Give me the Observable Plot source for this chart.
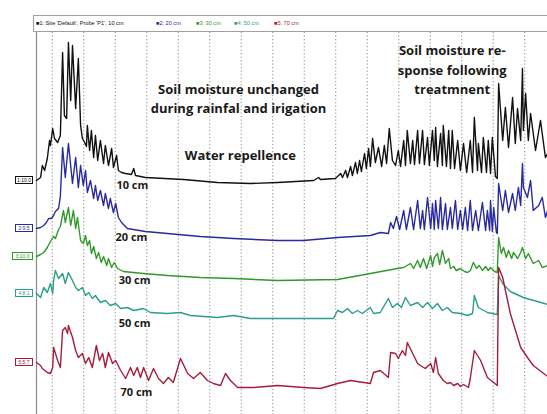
<!DOCTYPE html>
<html><head><meta charset="utf-8">
<script src="https://cdn.jsdelivr.net/npm/d3@7"></script>
<script src="https://cdn.jsdelivr.net/npm/@observablehq/plot@0.6"></script>
<style>
body{margin:0;background:#fff;}
#wrap{position:relative;width:547px;height:414px;overflow:hidden;background:#fff;}
#legend{position:absolute;left:33px;top:15px;width:530px;height:17px;border:1px solid #a0a0a0;box-sizing:border-box;background:#fff;font:5.6px "Liberation Sans",sans-serif;white-space:nowrap;}
#legend span{position:absolute;top:4px;}
#chart{position:absolute;left:0;top:32px;}
.badge{position:absolute;height:8px;box-sizing:border-box;border:1px solid;font:5px "Liberation Sans",sans-serif;line-height:6px;text-align:center;background:#fff;}
</style></head>
<body>
<div id="wrap"><div id="legend"></div><div id="chart"></div></div>
<script>
// ---- data: [day, soil moisture (offset trace units)] ----
const seriesNames = ["10 cm", "20 cm", "30 cm", "50 cm", "70 cm"];
const seriesColors = ["#111111", "#2a2aa0", "#2f9a2a", "#2a9e8a", "#a51d3c"];
const legendLabels = ["\u25A01: Site 'Default', Probe 'P1', 10 cm", "\u25A02: 20 cm", "\u25A03: 30 cm", "\u25A04: 50 cm", "\u25A05: 70 cm"];
const badgeLabels = ["1:10.0", "2:9.5", "3:10.0", "4:8.1", "5:5.7"];

const s10 = [[0,23.4],[0.9,23.7],[1.3,24.9],[1.8,24.4],[2.4,25.6],[2.9,27.4],[3.1,26.9],[3.6,28.6],[4,27.6],[4.7,27.2],[5.3,27.9],[5.8,36.2],[6.2,29.9],[6.7,29.6],[7.1,37.2],[7.6,31.4],[8,36.9],[8.7,30.6],[9.3,35.6],[9.8,28.9],[10.2,27.6],[10.7,27.2],[11.1,26.8],[11.3,28.9],[11.8,26.4],[12.2,28.4],[12.7,25.7],[13.1,27.9],[13.6,25.4],[14.2,27.4],[14.9,25.1],[15.3,26.9],[16,24.9],[16.7,26.6],[17.1,24.7],[17.8,25.9],[18.2,24.4],[18.9,24.2],[19.8,24.1],[21.1,24],[21.6,24.6],[22,23.9],[24.2,23.7],[32.7,23.5],[40.2,23.2],[47.6,23.1],[53.6,23.2],[61.6,23.4],[62.7,23.7],[63.1,23.5],[66.4,23.6],[66.9,23.8],[67.6,24.1],[68,23.7],[68.7,24.4],[69.1,23.7],[69.8,24.8],[70.2,23.9],[70.9,25.2],[71.3,24.1],[71.8,25.4],[72.2,24.3],[72.9,26.1],[73.3,24.6],[73.8,26.6],[74.2,24.8],[74.7,27.6],[75.3,25.2],[76,26.7],[76.7,24.8],[77.3,26.9],[77.8,25.1],[78.4,28.6],[79.1,25.4],[79.8,24.9],[80.4,26.4],[80.9,24.8],[81.6,27.4],[82,24.9],[82.4,28.4],[83.1,25.1],[83.6,27.4],[84,25],[84.7,28.4],[85.1,25.1],[85.8,28.4],[86.2,25],[86.9,27.7],[87.3,24.9],[88,28.4],[88.4,25.4],[88.7,28.7],[89.1,24.8],[89.8,28.1],[90.2,24.9],[90.4,28.9],[91.1,24.8],[91.6,28.4],[92,24.6],[92.4,28.4],[92.9,24.6],[93.6,27.4],[94.2,24.4],[94.9,27.1],[95.6,24.2],[96.4,27.4],[96.9,24.2],[97.3,29.7],[98,24.4],[98.2,27.1],[98.9,24.2],[99.3,27.7],[100,24.2],[100.4,27.4],[100.9,24.1],[101.3,27.7],[102,23.8],[102.4,23.6],[102.7,33.1],[103.6,27.4],[104.2,30.7],[104.9,26.7],[105.8,31.7],[106.4,27.1],[106.9,30.6],[107.6,27.4],[108,34.6],[108.2,28.4],[108.7,32.1],[109.3,27.4],[109.8,30.1],[110.9,26.4],[112,29.4],[113.1,25.7],[113.6,26.1]];

const s20 = [[0,18.6],[0.9,18.7],[1.6,18.9],[2.2,19.2],[2.7,19.6],[3.3,19.6],[3.8,19.9],[4.2,20.3],[4.9,20.6],[5.3,21.8],[5.8,26.7],[6.4,23.7],[7.1,27.1],[8,23.1],[8.7,25.7],[9.3,22.7],[9.8,24.9],[10.4,22.9],[10.9,24.4],[11.3,22.2],[12,23.4],[12.7,21.6],[13.1,22.9],[13.6,21.4],[14.2,22.4],[14.9,20.9],[15.3,22.1],[16,20.6],[16.4,21.6],[17.1,20.2],[17.6,21.1],[18.2,19.7],[18.9,19.2],[20.2,18.6],[24.2,18.3],[29.1,18.1],[36.4,17.8],[43.8,17.6],[53.6,17.4],[59.3,17.4],[66.9,17.7],[74.2,17.9],[76.4,18.2],[78.2,18.1],[78.7,19.2],[79.3,18.6],[80,19.8],[80.7,18.5],[81.6,20.4],[82.2,18.5],[83.1,20.7],[83.8,18.5],[84.7,21.4],[85.3,18.6],[85.8,20.4],[86.2,18.5],[86.9,21.7],[87.6,18.6],[88,21.1],[88.4,18.5],[88.7,21.4],[89.3,18.6],[89.8,21.7],[90.2,18.5],[90.9,21.1],[91.3,18.5],[92,20.7],[92.4,18.6],[93.1,21.4],[93.6,18.5],[94.2,20.4],[94.7,18.5],[95.3,20.7],[95.8,18.4],[96.4,21.4],[96.9,18.4],[97.6,20.4],[98.2,18.4],[99.1,21.2],[99.8,18.4],[100.2,20.4],[100.7,18.4],[100.9,21.4],[101.3,18.3],[101.6,20.7],[102.2,18.2],[102.4,18.1],[102.7,23.1],[103.6,20.4],[104.2,22.4],[104.9,20.2],[105.8,22.1],[106.4,20.4],[107.1,22.7],[107.6,20.9],[108,25.1],[108.2,22.7],[109.1,21.7],[109.8,23.4],[110.4,20.4],[111.6,20.9],[112.4,21.7],[113.1,19.7],[113.6,20.4]];

const s30 = [[0,15.8],[0.9,16],[1.6,16.2],[2.4,16.7],[3.1,17.3],[3.8,17.8],[4.2,17.6],[4.9,18.5],[5.3,18.8],[6,20.4],[6.4,19.2],[7.1,20.7],[7.6,18.9],[8.2,20.4],[8.7,18.6],[9.1,19.7],[9.8,17.4],[10.4,17.1],[10.9,17.9],[11.3,16.9],[11.8,17.4],[12.2,16.1],[12.7,16.8],[13.3,15.6],[13.8,16.2],[14.4,15.2],[14.9,15.8],[15.6,14.9],[16,15.6],[16.7,14.7],[17.3,15.2],[18,14.6],[19.3,14.3],[23.8,14.1],[29.1,13.9],[36.4,13.7],[43.8,13.6],[53.6,13.4],[66.9,13.5],[74.2,14.1],[80.2,14.6],[81.6,14.7],[83.1,15.1],[83.8,14.6],[84.7,15.4],[85.3,14.7],[86,15.6],[86.7,14.6],[87.6,15.9],[88,14.8],[88.4,15.7],[89.1,16.1],[89.6,15],[90.2,16.4],[90.9,15.1],[91.6,15.6],[92,14.6],[92.7,14.8],[93.3,14.4],[94.2,14.6],[95.1,14.3],[95.8,14.2],[96.4,14.4],[97.1,15.2],[97.8,14.6],[98.4,14.9],[99.1,14.4],[99.8,14.8],[100.4,14.4],[100.9,14.7],[101.8,14.3],[102.4,14.2],[102.7,17.7],[103.3,16.1],[103.8,16.7],[104.4,15.7],[104.9,16.4],[105.6,15.6],[106,16.2],[106.9,15.6],[107.6,16.2],[108,16.7],[108.7,15.6],[109.3,16.1],[110.4,15.1],[111.6,15.4],[112.4,14.7],[113.6,14.9]];

const s50 = [[0,12.1],[0.9,11.7],[1.6,12.7],[2.4,12.2],[3.1,13.1],[3.6,12.1],[3.8,13.4],[4.2,14.4],[4.9,13.6],[5.8,14.1],[6.4,13.1],[7.1,14.2],[8,13.4],[8.7,12.7],[9.3,12.4],[10.2,12.7],[10.9,11.9],[11.6,12.2],[12.4,11.6],[13.1,11.9],[14.2,11.2],[15.3,11.4],[16.4,10.9],[17.6,11.1],[18.7,10.6],[20.2,10.7],[21.6,10.4],[23.8,10.6],[25.3,10.2],[29.1,10.1],[32,10.2],[34.2,9.9],[40.2,9.7],[43.8,9.9],[47.6,9.6],[53.6,9.6],[66,9.6],[66.9,10.4],[68,10.2],[69.1,10.6],[70.2,10.1],[71.3,10.4],[72.4,10.1],[74.2,10.7],[74.9,10.1],[76.4,10.2],[78.2,11.6],[79.1,10.7],[80.2,11.1],[81.1,10.7],[82,11.7],[83.1,10.9],[84.7,11.2],[85.8,10.7],[86.9,11.2],[88,10.6],[89.1,11.1],[90.2,10.4],[91.3,10.7],[92.4,10.2],[94.2,10.1],[95.8,9.9],[96.9,10.1],[97.3,11.9],[98.2,10.7],[100.2,10.2],[102.4,10],[102.7,13.9],[103.6,13.1],[105.3,12.3],[108.2,11.7],[111.3,11.3],[113.6,11]];

const s70 = [[0,5.2],[0.9,4.9],[1.3,4.6],[2.4,4.2],[3.1,4.1],[3.6,4.7],[3.8,6.7],[4.7,5.4],[5.3,4.7],[5.8,8.4],[6.4,8.7],[6.9,8.1],[7.1,8.9],[8,7.7],[8.7,6.4],[9.3,5.7],[10.2,6.1],[10.9,5.1],[11.6,5.7],[12.4,4.7],[13.3,6.9],[14,5.4],[14.7,6.1],[15.3,4.7],[16,6.2],[16.9,5.1],[17.6,5.4],[18.7,4.4],[19.8,3.6],[20.9,4.7],[21.6,3.9],[22.4,4.7],[23.1,3.7],[23.8,4.7],[24.9,3.4],[26,4.6],[27.1,3.6],[28.2,3.1],[29.3,3.7],[30.4,3.2],[32,5.6],[33.6,4.1],[34.9,3.6],[36.4,4.2],[38,3.4],[39.3,3.1],[40.9,2.9],[42,4.1],[43.1,3.4],[44.7,2.7],[48.2,2.7],[53.6,2.9],[59.3,2.7],[63.1,2.6],[66.9,3.1],[69.8,3.4],[74.2,3.1],[74.9,4.2],[76.4,4.4],[78.2,3.7],[78.7,6.2],[79.8,6.1],[80.4,5.6],[81.3,6.4],[82,5.9],[82.4,7.2],[83.6,6.1],[84.7,5.1],[85.3,4.9],[86.4,4.6],[87.6,5.1],[88.2,4.2],[88.7,5.7],[89.3,4.1],[90.4,3.4],[91.3,3.1],[92,3.2],[92.7,2.9],[93.6,3.1],[94.2,2.8],[94.9,3],[96,2.7],[96.4,3.6],[97.3,6.4],[98.7,5.4],[100.2,3.7],[102.4,2.9],[102.7,14.7],[103.6,13.7],[105.3,10.1],[107.6,6.7],[109.1,5.7],[110.4,4.9],[112.7,4.1],[113.6,3.8]];

const gridDays = [3.5, 10.5, 17.5, 24.5, 31.5, 38.5, 45.5, 52.5, 59.5, 66.5, 73.5, 80.5, 87.5, 94.5, 101.5, 108.5];

// depth labels beside traces
const depthLabels = [
  {day: 21.3, v: 22.9, text: "10 cm"},
  {day: 21.1, v: 17.7, text: "20 cm"},
  {day: 21.8, v: 13.4, text: "30 cm"},
  {day: 21.8, v: 9.1, text: "50 cm"},
  {day: 22.2, v: 2.2, text: "70 cm"}
];
const notes = [
  {day: 44.9, v: 31.7, text: "Soil moisture unchanged\nduring rainfal and irigation"},
  {day: 45.3, v: 26.1, text: "Water repellence"},
  {day: 92.4, v: 34.6, text: "Soil moisture re-\nsponse following\ntreatmnent"}
];

const allSeries = [s10, s20, s30, s50, s70];
const rows = allSeries.flatMap((s, i) => s.map(([day, v]) => ({day, v, series: seriesNames[i]})));

const plot = Plot.plot({
  width: 547, height: 382,
  marginLeft: 36, marginRight: 0, marginTop: 0, marginBottom: 0,
  x: {domain: [0, 113.56], axis: null},
  y: {domain: [0, 38.2], axis: null},
  color: {domain: seriesNames, range: seriesColors},
  style: {background: "transparent"},
  marks: [
    Plot.ruleX(gridDays, {stroke: "#8a8a8a", strokeDasharray: "1.2,2.3", strokeWidth: 1}),
    Plot.ruleX([0], {stroke: "#8a8a8a", strokeWidth: 1.2}),
    Plot.line(rows, {x: "day", y: "v", z: "series", stroke: "series", strokeWidth: 1.4, curve: "linear"}),
    Plot.text(depthLabels, {x: "day", y: "v", text: "text", fontSize: 11, fontWeight: "bold", fill: "#1a1a1a", fontFamily: "Open Sans"}),
    Plot.text(notes, {x: "day", y: "v", text: "text", fontSize: 13, fontWeight: "bold", fill: "#1a1a1a", fontFamily: "Open Sans", lineHeight: 1.5})
  ]
});
document.getElementById("chart").appendChild(plot);

// legend above the plot
const legend = document.getElementById("legend");
const legendX = [2, 122, 162, 200, 240];
legendLabels.forEach((t, i) => {
  const s = document.createElement("span");
  s.textContent = t;
  s.style.left = legendX[i] + "px";
  s.style.color = seriesColors[i];
  legend.appendChild(s);
});

// trace badges on the left axis, positioned with the plot's y scale
const yScale = plot.scale("y");
const wrap = document.getElementById("wrap");
allSeries.forEach((s, i) => {
  const b = document.createElement("div");
  b.className = "badge";
  b.textContent = badgeLabels[i];
  const py = 32 + yScale.apply(s[0][1]);
  const w = i === 2 ? 21 : 18;
  b.style.left = (33 - w) + "px";
  b.style.width = w + "px";
  b.style.top = (py - 4) + "px";
  b.style.color = seriesColors[i];
  b.style.borderColor = seriesColors[i];
  wrap.appendChild(b);
});
</script>
</body></html>
